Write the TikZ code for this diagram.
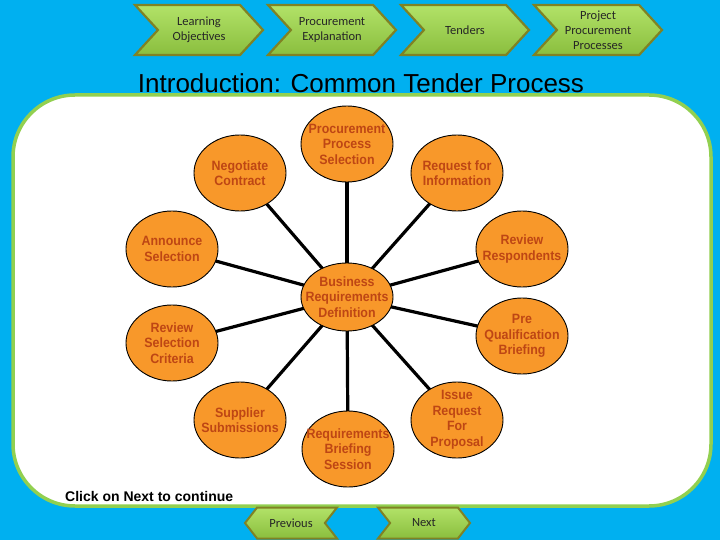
\documentclass[tikz,border=0pt]{standalone}
\usepackage{fontspec}
\setmainfont{Liberation Sans}
\newfontfamily\chevfont{Carlito}
\newfontfamily\circfont[FakeStretch=0.92]{Liberation Sans}
\usetikzlibrary{shapes.symbols,shapes.geometric,backgrounds}
\definecolor{bgblue}{RGB}{0,176,240}
\definecolor{panelgreen}{RGB}{146,208,80}
\definecolor{circfill}{RGB}{248,152,42}
\definecolor{circtext}{RGB}{190,70,20}
\definecolor{chevtop}{RGB}{178,226,104}
\definecolor{chevbot}{RGB}{138,190,62}
\definecolor{chevedge}{RGB}{128,130,36}
\tikzset{
  chev/.style={signal, signal to=east, signal from=west, signal pointer angle=95,
    minimum width=128pt, minimum height=50pt, inner sep=0pt,
    draw=chevedge, line width=2.2pt, top color=chevtop, bottom color=chevbot,
    text=black!85, font=\chevfont\fontsize{12.5}{15}\selectfont, align=center},
  navback/.style={signal, signal to=west, signal from=east, signal pointer angle=104,
    minimum width=92pt, minimum height=31pt, inner sep=0pt,
    draw=chevedge, line width=2pt, top color=chevtop, bottom color=chevbot,
    text=black!85, font=\chevfont\fontsize{12.5}{14}\selectfont},
  navnext/.style={navback, signal to=east, signal from=west},
  circ/.style={ellipse, draw=black, line width=0.9pt, fill=circfill,
    minimum width=92pt, minimum height=76pt, inner sep=0pt},
  circlab/.style={text=circtext, font=\circfont\bfseries\fontsize{13.5}{15.5}\selectfont, align=center, inner sep=0pt},
  link/.style={draw=black, line width=3.2pt}
}
\begin{document}
\begin{tikzpicture}[x=1pt,y=-1pt]
\useasboundingbox (0,0) rectangle (720,540);
\begin{scope}[on background layer]
  \fill[bgblue] (0,0) rectangle (720,540);
  \draw[draw=panelgreen, line width=3.5pt, fill=white, rounded corners=62pt] (13,95) rectangle (711,506);
\end{scope}

% top navigation chevrons
\node[chev] (lo) at (199,30) {Learning\\Objectives};
\node[chev] (pe) at (332,30) {Procurement\\Explanation};
\node[chev] (te) at (465,30) {Tenders};
\node[chev] (pp) at (598,30) {Project\\Procurement\\Processes};

% title
\node (title) at (361,83) {\fontsize{26}{30}\selectfont Introduction: Common Tender Process};

% circles
\node[circ, label={[circlab]center:Business\\Requirements\\Definition}] (brd) at (347,297) [minimum height=68pt] {};
\node[circ, label={[circlab]center:Procurement\\Process\\Selection}] (pps) at (347,144) {};
\node[circ, label={[circlab]center:Negotiate\\Contract}] (neg) at (240,173) {};
\node[circ, label={[circlab]center:Request for\\Information}] (rfi) at (457,173) {};
\node[circ, label={[circlab]center:Announce\\Selection}] (ann) at (172,249) {};
\node[circ, label={[circlab]center:Review\\Respondents}] (rr) at (522,249) {};
\node[circ, label={[circlab]center:Review\\Selection\\Criteria}] (rsc) at (172,343) {};
\node[circ, label={[circlab]center:Pre\\Qualification\\Briefing}] (pq) at (522,336) {};
\node[circ, label={[circlab]center:Supplier\\Submissions}] (ss) at (240,420) {};
\node[circ, label={[circlab]center:Requirements\\Briefing\\Session}] (rbs) at (348,449) {};
\node[circ, label={[circlab]center:Issue\\Request\\For\\Proposal}] (irp) at (457,420) {};

\begin{scope}[on background layer]
  \foreach \n in {pps,neg,rfi,ann,rr,rsc,pq,ss,rbs,irp}
    \draw[link] (brd.center) -- (\n.center);
\end{scope}

% footer
\node[anchor=west, font=\bfseries\fontsize{14}{16}\selectfont, inner sep=0pt] (click) at (65,496) {Click on Next to continue};
\node[navback] (prev) at (291,523) {Previous};
\node[navnext] (next) at (424,523) {Next};
\end{tikzpicture}
\end{document}
